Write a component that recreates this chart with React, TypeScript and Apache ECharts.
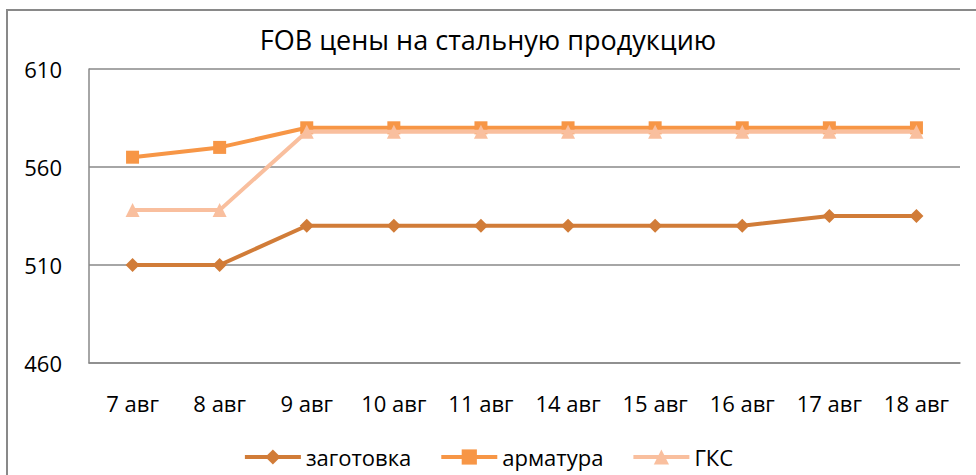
import React, { useEffect, useRef } from "react";
import * as echarts from "echarts";

const categories = ["7 авг", "8 авг", "9 авг", "10 авг", "11 авг", "14 авг", "15 авг", "16 авг", "17 авг", "18 авг"];
const zagotovka = [510, 510, 530, 530, 530, 530, 530, 530, 535, 535];
const armatura = [565, 570, 580, 580, 580, 580, 580, 580, 580, 580];
const gks = [538, 538, 578, 578, 578, 578, 578, 578, 578, 578];
const seriesNames = ["заготовка", "арматура", "ГКС"];
const colors = ["#D17C38", "#F79646", "#F9BF9E"];

const FONT = "'Open Sans', sans-serif";

export default function App() {
  const ref = useRef<HTMLDivElement>(null);
  useEffect(() => {
    if (!ref.current) return;
    const chart = echarts.init(ref.current, undefined, { renderer: "svg" });
    const mk = (name: string, data: number[], color: string, symbol: string, size: number, z: number) => ({
      name,
      type: "line",
      data,
      symbol,
      symbolSize: size,
      z,
      lineStyle: { color, width: 4 },
      itemStyle: { color },
    });
    chart.setOption({
      animation: false,
      backgroundColor: "#ffffff",
      textStyle: { fontFamily: FONT },
      title: {
        text: "FOB цены на стальную продукцию",
        left: "center",
        top: 21,
        textStyle: { fontFamily: FONT, fontSize: 27, fontWeight: "normal", color: "#000" },
      },
      graphic: [
        {
          type: "rect",
          shape: { x: 7, y: 10, width: 1000, height: 500 },
          style: { fill: "none", stroke: "#898989", lineWidth: 2 },
          silent: true,
        },
      ],
      legend: {
        bottom: 2,
        left: "center",
        itemWidth: 56,
        itemHeight: 19,
        itemGap: 28,
        lineStyle: { width: 4 },
        textStyle: { fontFamily: FONT, fontSize: 22, color: "#000" },
        data: seriesNames,
      },
      grid: { left: 89, right: 16, top: 69, bottom: 112, containLabel: false },
      xAxis: {
        type: "category",
        data: categories,
        boundaryGap: true,
        axisLine: { lineStyle: { color: "#898989", width: 1.5 } },
        axisTick: { show: false },
        axisLabel: { fontFamily: FONT, fontSize: 22, color: "#000", margin: 29 },
      },
      yAxis: {
        type: "value",
        min: 460,
        max: 610,
        interval: 50,
        axisLine: { show: true, lineStyle: { color: "#898989", width: 1.5 } },
        axisTick: { show: false },
        splitLine: { lineStyle: { color: "#898989", width: 1.5 } },
        axisLabel: { fontFamily: FONT, fontSize: 22, color: "#000", margin: 27 },
      },
      series: [
        mk(seriesNames[0], zagotovka, colors[0], "diamond", 14, 3),
        mk(seriesNames[1], armatura, colors[1], "rect", 13, 2),
        mk(seriesNames[2], gks, colors[2], "triangle", 14, 4),
      ],
    });
    return () => chart.dispose();
  }, []);
  return <div ref={ref} style={{ width: 976, height: 475, position: "absolute", left: 0, top: 0 }} />;
}
